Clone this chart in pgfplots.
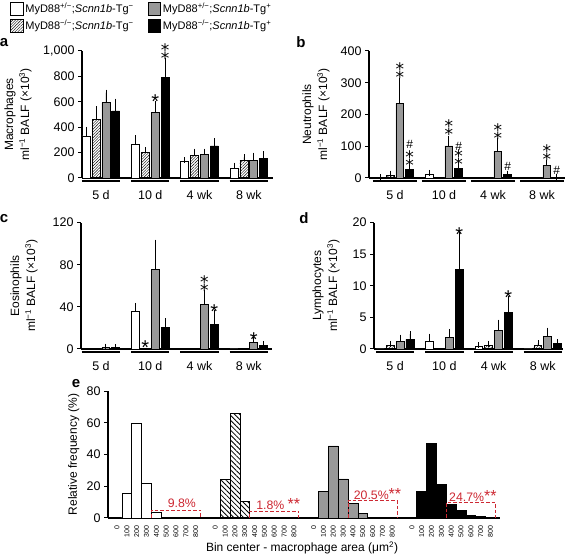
\documentclass[border=0pt]{standalone}
\usepackage{fontspec}
\setmainfont{Liberation Sans}
\newfontfamily\djv{DejaVu Sans}
\usepackage{pgfplots}
\pgfplotsset{compat=1.18}
\usetikzlibrary{patterns,patterns.meta}
\definecolor{barg}{gray}{0.6}
\definecolor{annred}{RGB}{205,40,50}
\newcommand{\tks}{\fontsize{12.5}{14}\selectfont}
\newcommand{\str}{\raisebox{-0.43em}[0.29em][0pt]{*}}
\newcommand{\dstr}{{\djv\fontsize{17}{17}\selectfont ⁑}}
\pgfplotsset{
  panel/.style={
    scale only axis, axis lines=left,
    axis line style={-, line width=1.2pt},
    ymin=0, clip=false,
    xtick={0,1,2,3}, xticklabels={5 d,10 d,4 wk,8 wk},
    xtick style={draw=none},
    ytick style={line width=1pt, black},
    tick align=outside, major tick length=4pt,
    tick label style={font=\tks},
    xticklabel style={yshift=-5pt},
    scaled y ticks=false,
    /pgf/number format/assume math mode=true,
    /pgf/number format/1000 sep={,},
    ylabel style={font=\fontsize{12}{16}\selectfont, align=center, anchor=center},
  },
  barbase/.style={ybar, bar width=0.16, bar shift=0pt, draw=black, line width=0.7pt, forget plot,
    /pgfplots/error bars/y dir=plus, /pgfplots/error bars/y explicit,
    /pgfplots/error bars/error bar style={line width=0.8pt, black, solid},
    /pgfplots/error bars/error mark options={line width=0.8pt, mark size=3pt, black, solid}},
  bw/.style={barbase, fill=white},
  bh/.style={barbase, pattern={Lines[angle=45,distance=2pt,line width=0.4pt]}},
  bg/.style={barbase, fill=barg},
  bk/.style={barbase, fill=black},
  ebar/.style={ybar, bar width=1, bar shift=0pt, draw=black, line width=0.7pt},
}
\tikzset{
  st/.style={font=\fontsize{20}{8.5}\selectfont, inner sep=0pt, anchor=center, align=center},
  hs/.style={font=\fontsize{12}{12}\selectfont, inner sep=0pt, anchor=center},
  lab/.style={font=\bfseries\fontsize{15}{15}\selectfont, inner sep=0pt, anchor=center},
  ul/.style={line width=1.5pt},
  rl/.style={annred, font=\fontsize{12.3}{14}\selectfont, inner sep=0pt, anchor=center},
  rb/.style={annred, dash pattern=on 3.5pt off 2pt, line width=1pt},
}
\begin{document}
\begin{tikzpicture}
\useasboundingbox (0pt,0pt) rectangle (567pt,556pt);

% ---------- panel a ----------
\begin{axis}[panel, at={(82pt,378pt)}, anchor=south west, width=191pt, height=127pt,
  xmin=-0.385, xmax=3.49, ymax=1000, ytick={0,200,400,600,800,1000},
  ylabel={Macrophages\\ml\textsuperscript{−1} BALF (×10\textsuperscript{3})},
  ylabel style={at={(axis description cs:-0.335,0.5)}},
  legend style={at={(axis description cs:-0.377,1.394)}, anchor=north west, draw=none, fill=none,
    inner sep=0pt, font=\fontsize{11}{13}\selectfont, legend columns=2,
    /tikz/every even column/.append style={column sep=12pt}, legend cell align=left, row sep=2pt},
  legend image code/.code={\draw[#1] (0pt,-6.25pt) rectangle (12.5pt,6.25pt);},
]
\addplot[bw] coordinates {(-0.3,331) +- (0,47) (0.7,265) +- (0,47) (1.7,134) +- (0,4) (2.7,76) +- (0,21)};
\addplot[bh] coordinates {(-0.1,462) +- (0,81) (0.9,199) +- (0,21) (1.9,181) +- (0,26) (2.9,136) +- (0,27)};
\addplot[bg] coordinates {(0.1,592) +- (0,80) (1.1,514) +- (0,66) (2.1,186) +- (0,21) (3.1,138) +- (0,38)};
\addplot[bk] coordinates {(0.3,528) +- (0,73) (1.3,790) +- (0,131) (2.3,252) +- (0,39) (3.3,155) +- (0,32)};
\addlegendimage{draw=black, line width=0.7pt, fill=white}
\addlegendentry{MyD88\textsuperscript{+/−};\textit{Scnn1b}-Tg\textsuperscript{−}}
\addlegendimage{draw=black, line width=0.7pt, fill=barg}
\addlegendentry{MyD88\textsuperscript{+/−};\textit{Scnn1b}-Tg\textsuperscript{+}}
\addlegendimage{draw=black, line width=0.7pt, pattern={Lines[angle=45,distance=2pt,line width=0.4pt]}}
\addlegendentry{MyD88\textsuperscript{−/−};\textit{Scnn1b}-Tg\textsuperscript{−}}
\addlegendimage{draw=black, line width=0.7pt, fill=black}
\addlegendentry{MyD88\textsuperscript{−/−};\textit{Scnn1b}-Tg\textsuperscript{+}}
\node[st] at (axis cs:1.1,640) {\str};
\node[st] at (axis cs:1.3,995) {\dstr};
\draw[ul] ([yshift=-3pt]axis cs:-0.39,0) -- ([yshift=-3pt]axis cs:0.39,0);
\draw[ul] ([yshift=-3pt]axis cs:0.61,0) -- ([yshift=-3pt]axis cs:1.39,0);
\draw[ul] ([yshift=-3pt]axis cs:1.61,0) -- ([yshift=-3pt]axis cs:2.39,0);
\draw[ul] ([yshift=-3pt]axis cs:2.61,0) -- ([yshift=-3pt]axis cs:3.39,0);
\end{axis}

% ---------- panel b ----------
\begin{axis}[panel, at={(369pt,378pt)}, anchor=south west, width=196pt, height=127pt,
  xmin=-0.53, xmax=3.47, ymax=400, ytick={0,100,200,300,400},
  ylabel={Neutrophils\\ml\textsuperscript{−1} BALF (×10\textsuperscript{3})},
  ylabel style={at={(axis description cs:-0.27,0.5)}},
]
\addplot[bw] coordinates {(-0.3,2) +- (0,1) (0.7,12) +- (0,4) (1.7,1) (2.7,1)};
\addplot[bh] coordinates {(-0.1,9) +- (0,5) (0.9,1) (1.9,1) (2.9,0.5)};
\addplot[bg] coordinates {(0.1,235) +- (0,70) (1.1,101) +- (0,21) (2.1,84) +- (0,31) (3.1,40) +- (0,8)};
\addplot[bk] coordinates {(0.3,27) +- (0,6) (1.3,31) +- (0,13) (2.3,10) +- (0,4) (3.3,2) +- (0,1)};
\node[st] at (axis cs:0.1,339) {\dstr};
\node[st] at (axis cs:0.3,62) {\dstr};
\node[hs] at (axis cs:0.3,106) {\#};
\node[st] at (axis cs:1.1,158) {\dstr};
\node[st] at (axis cs:1.3,63) {\dstr};
\node[hs] at (axis cs:1.3,101) {\#};
\node[st] at (axis cs:2.1,146) {\dstr};
\node[hs] at (axis cs:2.3,36) {\#};
\node[st] at (axis cs:3.1,79) {\dstr};
\node[hs] at (axis cs:3.3,23) {\#};
\draw[ul] ([yshift=-3pt]axis cs:-0.45,0) -- ([yshift=-3pt]axis cs:0.45,0);
\draw[ul] ([yshift=-3pt]axis cs:0.55,0) -- ([yshift=-3pt]axis cs:1.45,0);
\draw[ul] ([yshift=-3pt]axis cs:1.55,0) -- ([yshift=-3pt]axis cs:2.45,0);
\draw[ul] ([yshift=-3pt]axis cs:2.55,0) -- ([yshift=-3pt]axis cs:3.45,0);
\end{axis}

% ---------- panel c ----------
\begin{axis}[panel, at={(81pt,207pt)}, anchor=south west, width=191pt, height=126.3pt,
  xmin=-0.405, xmax=3.47, ymax=120, ytick={0,40,80,120},
  ylabel={Eosinophils\\ml\textsuperscript{−1} BALF (×10\textsuperscript{3})},
  ylabel style={at={(axis description cs:-0.298,0.5)}},
]
\addplot[bw] coordinates {(-0.3,0.3) (0.7,35.5) +- (0,5.5) (1.7,0.3) (2.7,0)};
\addplot[bh] coordinates {(-0.1,0) (0.9,0) (1.9,0.3) (2.9,0)};
\addplot[bg] coordinates {(0.1,1.5) +- (0,0.7) (1.1,75.7) +- (0,25.3) (2.1,42.4) +- (0,10.5) (3.1,6) +- (0,2.5)};
\addplot[bk] coordinates {(0.3,1.2) +- (0,0.5) (1.3,20.6) +- (0,5.7) (2.3,23.7) +- (0,10.8) (3.3,3.2) +- (0,1.3)};
\node[st] at (axis cs:0.9,5.6) {\str};
\node[st] at (axis cs:2.1,62) {\dstr};
\node[st] at (axis cs:2.3,39.6) {\str};
\node[st] at (axis cs:3.1,13.3) {\str};
\draw[ul] ([yshift=-3pt]axis cs:-0.39,0) -- ([yshift=-3pt]axis cs:0.39,0);
\draw[ul] ([yshift=-3pt]axis cs:0.61,0) -- ([yshift=-3pt]axis cs:1.39,0);
\draw[ul] ([yshift=-3pt]axis cs:1.61,0) -- ([yshift=-3pt]axis cs:2.39,0);
\draw[ul] ([yshift=-3pt]axis cs:2.61,0) -- ([yshift=-3pt]axis cs:3.39,0);
\end{axis}

% ---------- panel d ----------
\begin{axis}[panel, at={(374pt,207pt)}, anchor=south west, width=189pt, height=126.3pt,
  xmin=-0.43, xmax=3.41, ymax=20, ytick={0,5,10,15,20},
  ylabel={Lymphocytes\\ml\textsuperscript{−1} BALF (×10\textsuperscript{3})},
  ylabel style={at={(axis description cs:-0.254,0.5)}},
]
\addplot[bw] coordinates {(-0.3,0) (0.7,1.27) +- (0,0.68) (1.7,0.45) +- (0,0.15) (2.7,0)};
\addplot[bh] coordinates {(-0.1,0.53) +- (0,0.27) (0.9,0.1) (1.9,0.6) +- (0,0.2) (2.9,0.53) +- (0,0.37)};
\addplot[bg] coordinates {(0.1,1.16) +- (0,0.64) (1.1,1.85) +- (0,0.85) (2.1,3.0) +- (0,1.17) (3.1,1.95) +- (0,0.95)};
\addplot[bk] coordinates {(0.3,1.53) +- (0,0.84) (1.3,12.6) +- (0,5.45) (2.3,5.8) +- (0,2.06) (3.3,0.9) +- (0,0.15)};
\node[st] at (axis cs:1.3,18.8) {\str};
\node[st] at (axis cs:2.3,8.8) {\str};
\draw[ul] ([yshift=-3pt]axis cs:-0.39,0) -- ([yshift=-3pt]axis cs:0.39,0);
\draw[ul] ([yshift=-3pt]axis cs:0.61,0) -- ([yshift=-3pt]axis cs:1.39,0);
\draw[ul] ([yshift=-3pt]axis cs:1.61,0) -- ([yshift=-3pt]axis cs:2.39,0);
\draw[ul] ([yshift=-3pt]axis cs:2.61,0) -- ([yshift=-3pt]axis cs:3.39,0);
\end{axis}

% ---------- panel e ----------
\begin{axis}[scale only axis, at={(108pt,38pt)}, anchor=south west, width=392pt, height=127pt,
  axis lines=left, axis line style={-, line width=1.2pt}, clip=false,
  xmin=-0.92, xmax=38.96, ymin=0, ymax=80, ytick={0,20,40,60,80},
  xtick={0,1,2,3,4,5,6,7,8,10,11,12,13,14,15,16,17,18,20,21,22,23,24,25,26,27,28,30,31,32,33,34,35,36,37,38},
  xticklabels={0,100,200,300,400,500,600,700,800,0,100,200,300,400,500,600,700,800,0,100,200,300,400,500,600,700,800,0,100,200,300,400,500,600,700,800},
  xtick style={draw=none}, ytick style={line width=1pt, black},
  tick align=outside, major tick length=4pt,
  yticklabel style={font=\tks},
  xticklabel style={rotate=90, anchor=east, font=\fontsize{7}{8}\selectfont},
  /pgf/number format/assume math mode=true,
  ylabel={Relative frequency (\%)},
  ylabel style={at={(axis description cs:-0.087,0.5)}, anchor=center, font=\fontsize{12}{14}\selectfont},
  xlabel={Bin center - macrophage area (μm\textsuperscript{2})},
  xlabel style={at={(axis description cs:0.495,-0.236)}, anchor=center, font=\fontsize{12}{14}\selectfont},
]
\addplot[ebar, fill=white] coordinates {(1,15.5) (2,59.4) (3,21.8) (4,3.3)};
\addplot[ebar, pattern={Lines[angle=-45,distance=3.5pt,line width=0.8pt]}] coordinates {(11,24.4) (12,66) (13,10.3)};
\addplot[ebar, fill=barg] coordinates {(21,17) (22,45.4) (23,24.6) (24,9.2) (25,2.9) (26,0.6) (27,0.3)};
\addplot[ebar, fill=black] coordinates {(31,16.6) (32,47.2) (33,21.2) (34,8.6) (35,4.6) (36,1.5) (37,1.0)};
\draw[rb] (axis cs:3.5,0) -- (axis cs:3.5,5) -- (axis cs:8.5,5) -- (axis cs:8.5,0);
\draw[rb] (axis cs:13.5,0) -- (axis cs:13.5,4.4) -- (axis cs:18.5,4.4) -- (axis cs:18.5,0);
\draw[rb] (axis cs:23.5,0) -- (axis cs:23.5,10.9) -- (axis cs:28.5,10.9) -- (axis cs:28.5,0);
\draw[rb] (axis cs:33.5,0) -- (axis cs:33.5,9.6) -- (axis cs:38.5,9.6) -- (axis cs:38.5,0);
\node[rl] at (axis cs:6.6,9.4) {9.8\%};
\node[rl] at (axis cs:16.4,8.8) {1.8\% {\fontsize{16}{14}\selectfont**}};
\node[rl] at (axis cs:26.5,15.1) {20.5\%{\fontsize{16}{14}\selectfont**}};
\node[rl] at (axis cs:36.2,13.9) {24.7\%{\fontsize{16}{14}\selectfont**}};
\end{axis}

\node[lab] at (4pt,513pt) {a};
\node[lab] at (301pt,514pt) {b};
\node[lab] at (4pt,337pt) {c};
\node[lab] at (304pt,338pt) {d};
\node[lab] at (76pt,172pt) {e};
\end{tikzpicture}
\end{document}
